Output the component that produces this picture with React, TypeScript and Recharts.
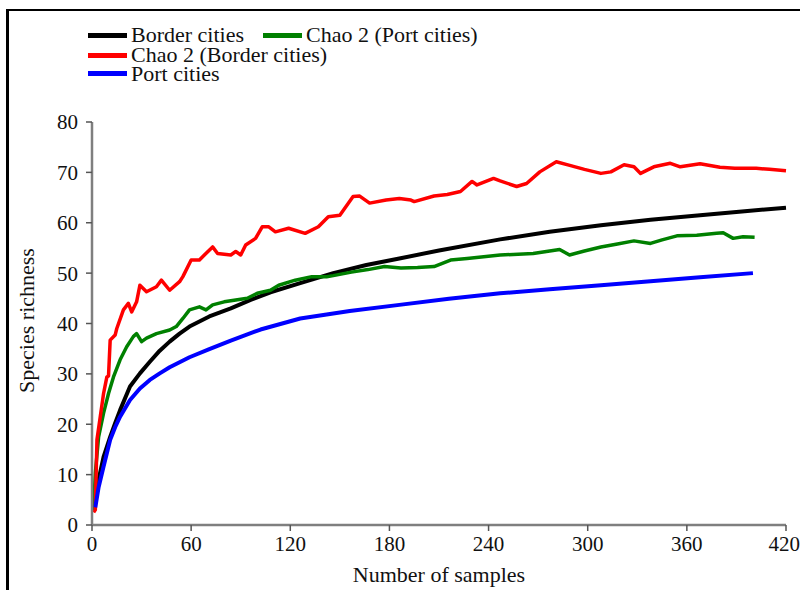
import React from "react";
import { LineChart, Line, XAxis, YAxis, Label } from "recharts";

// sample counts (x) and richness values (y)
const borderN = [1, 2, 4, 7, 11, 14, 17, 23, 29, 35, 41, 47, 53, 59, 71, 84, 96, 108, 126, 146, 166, 186, 210, 247, 277, 308, 338, 368, 395, 420];
const borderS = [3.0, 4.5, 9.0, 13.5, 17.5, 20.2, 22.8, 27.5, 30.1, 32.4, 34.6, 36.4, 38.0, 39.4, 41.4, 43.0, 44.7, 46.2, 48.0, 50.0, 51.6, 52.9, 54.5, 56.7, 58.2, 59.5, 60.6, 61.5, 62.3, 63.0];

const portN = [2, 4, 7, 11, 14, 17, 23, 29, 35, 41, 47, 59, 71, 84, 102, 126, 156, 186, 216, 247, 277, 308, 338, 368, 400];
const portS = [3.5, 7.5, 11.6, 16.9, 19.4, 21.5, 24.8, 27.1, 28.8, 30.1, 31.3, 33.3, 34.9, 36.6, 38.8, 41.0, 42.5, 43.7, 44.9, 46.0, 46.8, 47.6, 48.4, 49.2, 50.0];

const chaoBorderN = [1, 2, 3, 5, 7, 9, 10, 11, 14, 15, 19, 22, 24, 27, 29, 33, 39, 42, 47, 53, 55, 60, 65, 68, 73, 76, 84, 87, 90, 93, 99, 103, 107, 111, 119, 129, 137, 143, 150, 158, 162, 168, 178, 186, 193, 195, 207, 215, 223, 230, 233, 243, 247, 257, 263, 271, 281, 288, 298, 308, 314, 322, 328, 332, 340, 350, 356, 368, 380, 389, 402, 410, 420];
const chaoBorderS = [2.5, 3.0, 16.9, 21.5, 26.1, 29.4, 29.6, 36.7, 37.7, 39.0, 42.7, 44.0, 42.3, 44.3, 47.6, 46.3, 47.3, 48.6, 46.6, 48.3, 49.3, 52.6, 52.6, 53.6, 55.2, 53.9, 53.6, 54.3, 53.6, 55.6, 56.9, 59.2, 59.2, 58.2, 58.9, 57.9, 59.2, 61.2, 61.5, 65.2, 65.3, 63.9, 64.5, 64.8, 64.5, 64.2, 65.3, 65.6, 66.2, 68.2, 67.5, 68.8, 68.3, 67.2, 67.8, 70.1, 72.1, 71.5, 70.6, 69.8, 70.1, 71.5, 71.1, 69.8, 71.1, 71.8, 71.1, 71.7, 71.0, 70.8, 70.8, 70.6, 70.3];

const chaoPortN = [1, 2, 4, 7, 10, 13, 17, 21, 25, 27, 30, 33, 39, 47, 51, 55, 59, 65, 69, 73, 80, 88, 94, 100, 108, 113, 123, 133, 142, 146, 157, 167, 177, 187, 197, 207, 217, 227, 247, 267, 283, 289, 298, 308, 318, 328, 338, 345, 354, 366, 378, 382, 388, 394, 401];
const chaoPortS = [3.0, 10.3, 17.5, 22.2, 26.1, 29.4, 32.8, 35.4, 37.4, 38.0, 36.4, 37.1, 38.0, 38.7, 39.4, 41.0, 42.7, 43.3, 42.7, 43.7, 44.3, 44.7, 45.0, 46.0, 46.6, 47.6, 48.6, 49.3, 49.3, 49.5, 50.2, 50.7, 51.3, 51.0, 51.1, 51.3, 52.6, 52.9, 53.6, 53.9, 54.7, 53.6, 54.4, 55.2, 55.8, 56.4, 55.9, 56.6, 57.4, 57.5, 57.9, 58.0, 56.9, 57.2, 57.1];

const xTicks = [0, 60, 120, 180, 240, 300, 360, 420];
const yTicks = [0, 10, 20, 30, 40, 50, 60, 70, 80];

const toRows = (n: number[], s: number[]) => n.map((v, i) => ({ n: v, s: s[i] }));

const series = [
  { name: "Border cities", color: "#000000", data: toRows(borderN, borderS), width: 4 },
  { name: "Chao 2 (Port cities)", color: "#008000", data: toRows(chaoPortN, chaoPortS), width: 3.5 },
  { name: "Chao 2 (Border cities)", color: "#ff0000", data: toRows(chaoBorderN, chaoBorderS), width: 3.5 },
  { name: "Port cities", color: "#0000ff", data: toRows(portN, portS), width: 4 },
];

const FONT = '"Liberation Serif", "Times New Roman", serif';
const FS = 22;

// legend layout: [series index, left, center y]
const legendSlots: [number, number, number][] = [
  [0, 88, 35],
  [1, 263, 35],
  [2, 88, 55],
  [3, 88, 73.5],
];

const tickStyle = { fill: "#111", fontSize: 21, fontFamily: FONT };

export default function App() {
  return (
    <div style={{ position: "absolute", left: 0, top: 0, width: 800, height: 590, background: "#fff", overflow: "hidden", fontFamily: FONT }}>
      <div
        style={{
          position: "absolute",
          left: 6,
          top: 9,
          width: 820,
          height: 620,
          borderLeft: "3px solid #000",
          borderTop: "2px solid #000",
        }}
      />
      <LineChart
        width={800}
        height={590}
        margin={{ top: 122, right: 14, bottom: 5, left: 8 }}
        style={{ position: "absolute", left: 0, top: 0, fontFamily: FONT }}
      >
        <XAxis
          type="number"
          dataKey="n"
          domain={[0, 420]}
          ticks={xTicks}
          height={60}
          allowDuplicatedCategory={false}
          tick={tickStyle}
          tickSize={6}
          tickMargin={5}
          axisLine={{ stroke: "#7f7f7f", strokeWidth: 2.5 }}
          tickLine={{ stroke: "#555", strokeWidth: 1.5 }}
        >
          <Label
            content={(p: any) => {
              const vb = p.viewBox || {};
              return (
                <text x={vb.x + vb.width / 2} y={vb.y + 57} textAnchor="middle" fontSize={FS} fontFamily={FONT} fill="#111">
                  Number of samples
                </text>
              );
            }}
          />
        </XAxis>
        <YAxis
          type="number"
          domain={[0, 80]}
          ticks={yTicks}
          width={84}
          tick={tickStyle}
          tickSize={6}
          tickMargin={8}
          axisLine={{ stroke: "#7f7f7f", strokeWidth: 2.5 }}
          tickLine={{ stroke: "#555", strokeWidth: 1.5 }}
        >
          <Label
            content={(p: any) => {
              const vb = p.viewBox || {};
              const cx = vb.x + 18;
              const cy = vb.y + vb.height / 2 - 3;
              return (
                <text
                  x={cx}
                  y={cy}
                  textAnchor="middle"
                  dominantBaseline="central"
                  transform={`rotate(-90 ${cx} ${cy})`}
                  fontSize={FS}
                  fontFamily={FONT}
                  fill="#111"
                >
                  Species richness
                </text>
              );
            }}
          />
        </YAxis>
        {series.map((s) => (
          <Line
            key={s.name}
            data={s.data}
            dataKey="s"
            name={s.name}
            type="linear"
            stroke={s.color}
            strokeWidth={s.width}
            strokeLinejoin="round"
            dot={false}
            activeDot={false}
            isAnimationActive={false}
          />
        ))}
      </LineChart>
      {legendSlots.map(([idx, left, cy]) => (
        <div
          key={idx}
          style={{
            position: "absolute",
            left,
            top: cy - 9,
            height: 18,
            display: "flex",
            alignItems: "center",
            fontFamily: FONT,
            fontSize: FS,
            lineHeight: "18px",
            color: "#111",
            whiteSpace: "nowrap",
          }}
        >
          <span style={{ display: "inline-block", width: 39, height: 5, background: series[idx].color, marginRight: 4 }} />
          <span style={{ display: "inline-block", height: 18, lineHeight: "18px", overflow: "visible" }}>{series[idx].name}</span>
        </div>
      ))}
    </div>
  );
}
